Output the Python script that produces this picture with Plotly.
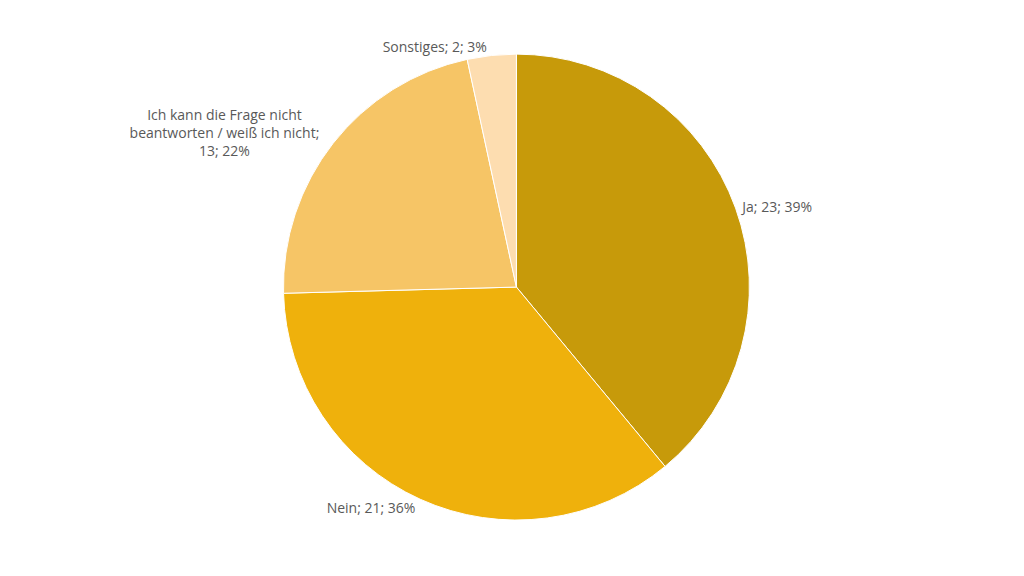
import plotly.graph_objects as go

labels = ["Ja", "Nein", "Ich kann die Frage nicht<br>beantworten / weiß ich nicht", "Sonstiges"]
values = [23, 21, 13, 2]
percents = ["39%", "36%", "22%", "3%"]
colors = ["#C79A0A", "#EFB10C", "#F6C566", "#FDDDB0"]

texts = [f"{l};<br>{v}; {p}" if i == 2 else f"{l}; {v}; {p}" for i, (l, v, p) in enumerate(zip(labels, values, percents))]

fig = go.Figure(go.Pie(
    labels=labels, values=values, text=texts, textinfo="text",
    textposition="outside", sort=False, direction="clockwise", rotation=0,
    marker=dict(colors=colors, line=dict(color="white", width=1)),
    textfont=dict(family="Open Sans", size=14, color="#595959"),
    domain=dict(x=[0.269, 0.724], y=[0.111, 0.920]),
    showlegend=False, hoverinfo="skip",
))
fig.update_layout(width=1024, height=576, margin=dict(l=0, r=0, t=0, b=0),
                  paper_bgcolor="white", plot_bgcolor="white")
fig.write_html("out.html")
